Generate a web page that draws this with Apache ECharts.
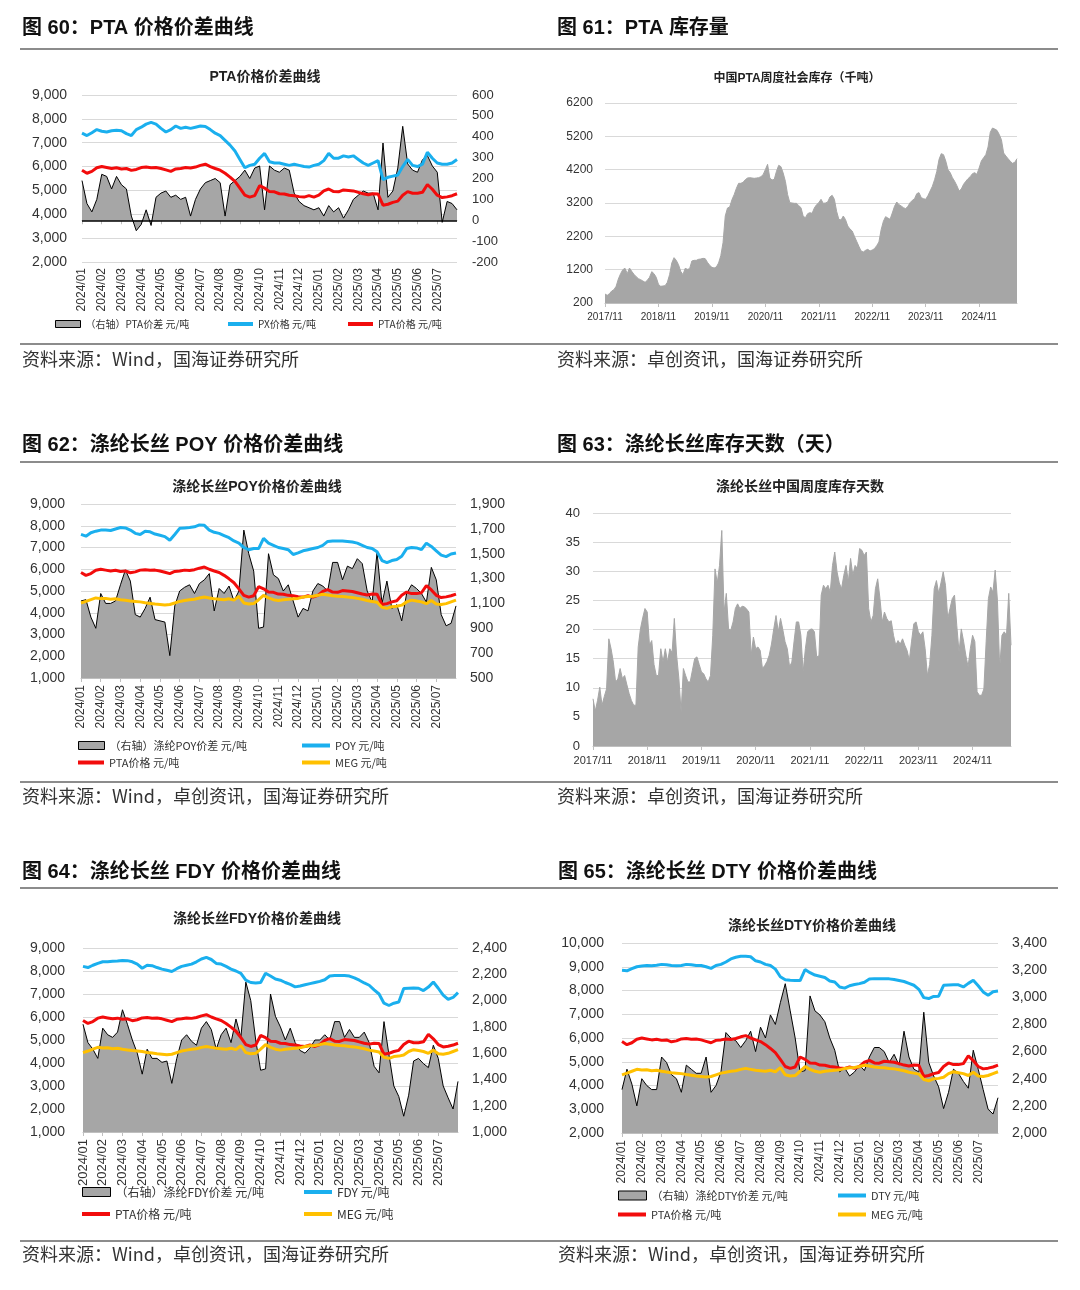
<!DOCTYPE html>
<html><head><meta charset="utf-8">
<script src="https://cdn.jsdelivr.net/npm/echarts@6.0.0/dist/echarts.min.js"></script>
<style>html,body{margin:0;padding:0;background:#fff}#c{width:1080px;height:1290px}</style>
</head><body><div id="c"></div>
<script>
// ---------- tick labels / categories ----------
const monthTicks = ['2024/01','2024/02','2024/03','2024/04','2024/05','2024/06','2024/07','2024/08','2024/09','2024/10','2024/11','2024/12','2025/01','2025/02','2025/03','2025/04','2025/05','2025/06','2025/07'];
const yearTicks = ['2017/11','2018/11','2019/11','2020/11','2021/11','2022/11','2023/11','2024/11'];

// ---------- series values (weekly, 2024/01 - 2025/07) ----------
const ptaPrice = [5850,5720,5800,5950, 6000,5960,5920,5950, 5900,5920,5840,5880, 5960,5980,5950,5960, 5920,5860,5800,5900, 5920,5960,5940,5980, 6050,6100,6000,5920, 5850,5720,5560,5380, 5100,4800,4720,4780, 5200,5100,4950,4940, 4860,4850,4800,4780, 4740,4720,4780,4720, 4800,4980,5060,4950, 4940,5020,5000,4980, 4920,4860,4820,4860, 4850,4380,4420,4500, 4550,4800,4950,4880, 4880,4920,5250,5050, 4800,4700,4730,4780, 4860];
const pxPrice = [7400,7300,7420,7550, 7480,7450,7500,7520, 7500,7380,7300,7550, 7650,7780,7850,7780, 7600,7450,7550,7700, 7600,7650,7600,7650, 7700,7680,7550,7400, 7300,7100,6900,6650, 6300,5950,6050,6100, 6350,6550,6200,6150, 6150,6100,6050,6100, 6050,6000,5980,6050, 6100,6250,6550,6350, 6350,6450,6400,6450, 6300,6150,6050,6150, 6250,5450,5550,5600, 5650,6000,6300,6050, 6000,6100,6600,6350, 6150,6100,6100,6150, 6300];
const ptaSpread = [190,80,40,100, 220,210,150,210, 170,150,20,-50, -20,50,-25,110, 130,140,110,120, 100,110,20,100, 150,180,190,200, 180,20,170,190, 210,240,200,250, 260,50,260,240, 230,250,240,130, 90,70,60,50, 60,20,70,40, 60,10,50,100, 120,140,130,130, 50,370,110,140, 250,450,270,240, 230,290,310,260, 230,-10,90,80, 50];
const megPrice = [4450,4520,4600,4680, 4650,4660,4620,4640, 4600,4570,4540,4520, 4500,4460,4430,4400, 4380,4360,4380,4450, 4520,4560,4600,4620, 4680,4720,4680,4640, 4620,4600,4640,4580, 4750,4450,4400,4420, 4600,4800,4680,4600, 4560,4600,4620,4640, 4660,4720,4750,4760, 4800,4850,4820,4780, 4760,4750,4720,4700, 4660,4620,4560,4520, 4480,4250,4200,4280, 4300,4350,4500,4580, 4540,4500,4420,4560, 4400,4380,4420,4500, 4580];
const poyPrice = [7600,7520,7680,7750, 7800,7800,7780,7850, 7920,7900,7800,7650, 7600,7750,7720,7620, 7560,7500,7330,7600, 7880,7900,7920,7950, 8040,8020,7800,7700, 7650,7550,7450,7300, 7200,7000,6900,6950, 6950,7420,7200,7100, 7000,6950,6900,6680, 6750,6850,6900,6950, 7000,7100,7280,7300, 7300,7300,7280,7250, 7200,7100,7000,6950, 6800,6400,6300,6400, 6450,6600,6950,7000, 6980,6900,7200,7050, 6850,6650,6580,6700, 6750];
const poySpread = [1120,1130,990,900, 1180,1100,1100,1120, 1250,1370,1280,1010, 990,1060,1150,970, 960,950,680,1080, 1200,1230,1250,1180, 1260,1290,1340,1040, 1220,1180,1240,1120, 1200,1690,1500,1360, 900,910,1500,1330, 1300,1200,1250,1120, 990,1060,1040,1200, 1260,1240,1200,1430, 1430,1290,1400,1380, 1460,1420,1200,1110, 1510,1100,1280,1060, 1090,960,1180,1250, 1220,1180,1110,1390, 1290,1010,920,940, 1080];
const fdyPrice = [8200,8150,8250,8330, 8400,8400,8420,8430, 8460,8450,8400,8300, 8120,8250,8230,8150, 8080,8030,7980,8100, 8200,8250,8300,8400, 8520,8590,8500,8330, 8300,8200,8080,8000, 7900,7600,7500,7480, 7500,7900,7780,7650, 7600,7500,7420,7310, 7350,7400,7450,7500, 7550,7620,7780,7800, 7800,7800,7780,7700, 7600,7480,7380,7180, 7000,6600,6500,6600, 6650,7240,7250,7260, 7250,7150,7300,7520, 7250,6950,6770,6850, 7060];
const fdySpread = [1820,1680,1630,1560, 1790,1740,1720,1760, 1930,1820,1700,1600, 1440,1630,1560,1560, 1530,1540,1370,1560, 1700,1740,1690,1660, 1790,1840,1780,1630, 1740,1790,1680,1860, 1720,2140,2000,1700, 1470,1480,2050,1880, 1800,1700,1790,1680, 1620,1600,1640,1700, 1700,1740,1700,1840, 1840,1720,1780,1720, 1720,1760,1680,1500, 1450,1840,1590,1350, 1270,1120,1280,1540, 1560,1520,1490,1660, 1560,1350,1260,1175, 1385];
const dtyPrice = [8850,8830,8920,9000, 9030,9050,9040,9060, 9100,9080,9050,9040, 9050,9100,9080,9050, 9050,9000,8930,9050, 9100,9200,9330,9400, 9440,9440,9420,9250, 9200,9100,9050,8900, 8580,8450,8430,8420, 8420,8880,8750,8650, 8600,8550,8400,8360, 8150,8100,8200,8250, 8290,8350,8480,8500, 8500,8500,8490,8460, 8420,8380,8300,8220, 8050,7700,7660,7750, 7760,8220,8230,8240, 8240,8150,8300,8430, 8200,7940,7800,7950, 7980];
const dtySpread = [2320,2470,2360,2200, 2400,2350,2320,2320, 2560,2520,2430,2400, 2300,2500,2470,2440, 2440,2560,2300,2350, 2450,2740,2700,2680, 2630,2680,2750,2600, 2780,2700,2870,2800, 2960,3100,2900,2700, 2450,2460,3010,2900, 2870,2820,2700,2610, 2450,2480,2420,2450, 2500,2460,2560,2630, 2630,2600,2520,2580, 2500,2750,2560,2470, 2450,2890,2520,2420, 2340,2180,2300,2470, 2440,2380,2330,2610, 2470,2320,2175,2140, 2260];

// ---------- series values (half-monthly, 2017/11 - 2025/07) ----------
const ptaStock = [470,430,480,560,600,700,920,1080,1200,1240,1080,1250,1150,1060,990,930,900,860,820,880,970,1140,1080,970,
 760,700,710,720,820,1050,1400,1560,1480,1350,1150,1050,1240,1210,1230,1460,1480,1480,1510,1520,1540,1530,1420,1330,
 1270,1250,1280,1400,1620,2010,2810,3050,3080,3300,3450,3640,3790,3790,3820,3900,3950,3960,3950,3940,3950,3960,3990,4050,
 4200,4360,3950,3890,3910,4150,4330,4290,4100,3850,3450,3210,3200,3190,3190,3120,3060,2800,2760,2880,2910,2890,3050,3150,
 3210,3310,3190,3200,3230,3380,3430,3310,2950,2710,2690,2810,2700,2510,2420,2360,2200,2050,1900,1760,1730,1780,1810,1760,
 1790,1830,1920,2030,2400,2650,2790,2750,2710,2900,3100,3230,3150,3110,3060,3030,3100,3210,3280,3330,3480,3510,3360,3330,
 3310,3420,3560,3700,3900,4150,4510,4680,4650,4460,4200,4110,3960,3850,3720,3560,3620,3760,3850,3930,3990,4080,4110,4060,
 4250,4460,4560,4650,4880,5320,5450,5420,5380,5260,5100,4700,4610,4530,4450,4390,4420,4530];
const yarnDays = [8.1,6.0,7.8,10.1,7.0,8.5,9.8,18.4,16.7,14.4,11.0,11.5,13.3,11.6,12.1,10.5,9.0,7.8,7.0,7.0,17.0,20.1,22.0,23.6,
 23.0,17.3,18.1,14.0,12.1,12.1,16.7,14.4,16.7,14.4,16.7,16.0,21.9,15.6,11.6,5.8,13.3,12.1,11.0,11.0,13.0,15.0,15.3,14.0,
 12.7,12.4,11.5,11.0,12.1,19.0,30.4,28.0,31.0,37.0,23.0,26.2,20.1,19.9,21.3,23.6,24.4,23.6,24.0,23.9,23.5,23.0,15.6,18.7,
 16.7,17.0,16.4,13.3,13.8,14.5,15.6,17.5,20.1,22.4,19.6,21.9,20.0,17.9,16.7,13.6,14.4,18.0,21.3,21.3,19.0,12.7,16.7,19.6,
 20.0,20.1,19.6,15.3,15.5,25.9,27.6,27.0,27.6,26.4,31.0,33.3,29.9,28.0,27.0,29.3,31.0,28.2,32.2,29.3,31.0,30.5,33.9,33.6,
 32.7,33.3,23.6,21.3,22.4,27.0,28.7,25.3,21.3,23.0,21.9,21.3,21.5,19.0,17.3,18.1,17.5,18.4,17.3,16.4,14.7,18.0,21.0,21.3,
 19.6,19.0,19.6,16.7,12.1,14.0,19.0,27.0,28.4,26.2,28.0,29.9,27.6,21.9,23.6,25.3,25.9,20.7,16.1,20.1,18.0,15.6,13.6,16.7,
 19.0,17.9,9.3,8.7,8.7,9.8,17.9,25.3,27.3,26.4,30.2,25.0,13.3,19.0,19.6,19.0,26.2,17.3];

// ---------- categories built from the tick labels ----------
const weekDates = [];
monthTicks.forEach(m => ['-1','-2','-3','-4'].forEach(w => weekDates.push(m + w)));
weekDates.push('2025/07-E');
const halfMonthDates = [];
for (let k = 0; k < 93; k++) {
  const y = 2017 + Math.floor((10 + k) / 12);
  const mo = (10 + k) % 12 + 1;
  const s = y + '/' + (mo < 10 ? '0' + mo : mo);
  halfMonthDates.push(s + '-a', s + '-b');
}
const monthStart = (idx, v) => /-1$/.test(v);
const yearStart = (idx, v) => yearTicks.indexOf(v.slice(0, 7)) >= 0 && /-a$/.test(v);

// ---------- styling ----------
const FONT = "'Liberation Sans','Noto Sans CJK SC',sans-serif";
const CJK = "'Noto Sans CJK SC','Liberation Sans',sans-serif";
const BLUE = '#1AAFEE', RED = '#F20C0C', GOLD = '#FFC000', GRAY = '#A6A6A6';
const TXT = '#333';
const comma = v => String(v).replace(/\B(?=(\d{3})+(?!\d))/g, ',');

const opt = { backgroundColor: '#fff', animation: false, title: [], grid: [], xAxis: [], yAxis: [], series: [], legend: [], graphic: [] };

function addText(text, left, top, size, bold, align, family, color) {
  opt.title.push({ text, left, top, textAlign: align || 'left', padding: 0,
    textStyle: { fontSize: size, fontWeight: bold ? 'bold' : 'normal', color: color || '#111', fontFamily: family || FONT } });
}
function hline(y) {
  opt.graphic.push({ type: 'line', shape: { x1: 20, y1: y, x2: 1058, y2: y }, style: { stroke: '#666', lineWidth: 1.5 }, silent: true });
}
function addLegend(name, left, top, kind, color, fs, w, h) {
  opt.legend.push({ left, top, itemWidth: w, itemHeight: h, selectedMode: false, padding: 0,
    textStyle: { fontSize: fs, color: TXT, fontFamily: CJK },
    data: [{ name, icon: 'rect', itemStyle: kind === 'area'
      ? { color: GRAY, borderColor: '#000', borderWidth: 1 }
      : { color, borderWidth: 0 } }] });
}

function pricePanel(p) {
  const gi = opt.grid.length;
  opt.grid.push({ left: p.x, top: p.y, width: p.w, height: p.h });
  opt.xAxis.push({ type: 'category', gridIndex: gi, data: weekDates, boundaryGap: false,
    axisLine: { lineStyle: { color: '#BFBFBF' } },
    axisTick: { interval: monthStart, length: 4, lineStyle: { color: '#BFBFBF' } },
    axisLabel: { interval: monthStart, rotate: 90, margin: p.xm, fontSize: p.xfs, color: TXT, fontFamily: FONT, formatter: v => v.slice(0, 7) },
    splitLine: { show: false } });
  const xi = opt.xAxis.length - 1;
  opt.yAxis.push({ type: 'value', gridIndex: gi, position: 'left', min: p.lmin, max: p.lmax, interval: p.lint,
    axisLine: { show: false }, axisTick: { show: false },
    splitLine: { lineStyle: { color: '#D9D9D9' } },
    axisLabel: { margin: p.lm, fontSize: p.lfs, color: TXT, fontFamily: FONT, formatter: comma } });
  const yl = opt.yAxis.length - 1;
  opt.yAxis.push({ type: 'value', gridIndex: gi, position: 'right', min: p.rmin, max: p.rmax, interval: p.rint,
    axisLine: { show: false }, axisTick: { show: false }, splitLine: { show: false },
    axisLabel: { margin: p.rm, fontSize: p.rfs, color: TXT, fontFamily: FONT, formatter: comma } });
  const yr = yl + 1;
  const sp = { type: 'line', name: p.spreadName, xAxisIndex: xi, yAxisIndex: yr, data: p.spread, symbol: 'none', z: 1,
    lineStyle: { color: '#000', width: 1 }, itemStyle: { color: GRAY },
    areaStyle: { color: GRAY, opacity: 1, origin: p.origin } };
  if (p.zeroLine) sp.markLine = { silent: true, symbol: 'none', label: { show: false },
    lineStyle: { color: '#000', width: 1.5, type: 'solid' }, data: [{ yAxis: 0 }] };
  opt.series.push(sp);
  p.lines.forEach((l, k) => opt.series.push({ type: 'line', name: l.name, xAxisIndex: xi, yAxisIndex: yl, data: l.data,
    symbol: 'none', z: 3 + k, lineStyle: { color: l.color, width: 3 }, itemStyle: { color: l.color } }));
}

function areaPanel(p) {
  const gi = opt.grid.length;
  opt.grid.push({ left: p.x, top: p.y, width: p.w, height: p.h });
  opt.xAxis.push({ type: 'category', gridIndex: gi, data: halfMonthDates, boundaryGap: false,
    axisLine: { lineStyle: { color: '#BFBFBF' } },
    axisTick: { interval: yearStart, length: 4, lineStyle: { color: '#BFBFBF' } },
    axisLabel: { interval: yearStart, margin: p.xm, fontSize: p.xfs, color: TXT, fontFamily: FONT, formatter: v => v.slice(0, 7) },
    splitLine: { show: false } });
  opt.yAxis.push({ type: 'value', gridIndex: gi, min: p.min, max: p.max, interval: p.int,
    axisLine: { show: false }, axisTick: { show: false },
    splitLine: { lineStyle: { color: '#D9D9D9' } },
    axisLabel: { margin: p.lm, fontSize: p.lfs, color: TXT, fontFamily: FONT, formatter: v => String(v) } });
  opt.series.push({ type: 'line', name: p.name, xAxisIndex: opt.xAxis.length - 1, yAxisIndex: opt.yAxis.length - 1,
    data: p.data, symbol: 'none', lineStyle: { color: GRAY, width: 1 }, itemStyle: { color: GRAY },
    areaStyle: { color: GRAY, opacity: 1, origin: 'start' } });
}

// ---------- page text & rules ----------
addText('图 60：PTA 价格价差曲线', 22, 18, 20, true);
addText('图 61：PTA 库存量', 557, 18, 20, true);
addText('图 62：涤纶长丝 POY 价格价差曲线', 22, 435, 20, true);
addText('图 63：涤纶长丝库存天数（天）', 557, 435, 20, true);
addText('图 64：涤纶长丝 FDY 价格价差曲线', 22, 862, 20, true);
addText('图 65：涤纶长丝 DTY 价格价差曲线', 558, 862, 20, true);
addText('资料来源：Wind，国海证券研究所', 22, 350, 18, false, 'left', CJK, '#333');
addText('资料来源：卓创资讯，国海证券研究所', 557, 350, 18, false, 'left', CJK, '#333');
addText('资料来源：Wind，卓创资讯，国海证券研究所', 22, 787, 18, false, 'left', CJK, '#333');
addText('资料来源：卓创资讯，国海证券研究所', 557, 787, 18, false, 'left', CJK, '#333');
addText('资料来源：Wind，卓创资讯，国海证券研究所', 22, 1245, 18, false, 'left', CJK, '#333');
addText('资料来源：Wind，卓创资讯，国海证券研究所', 558, 1245, 18, false, 'left', CJK, '#333');
[49, 344, 462, 782, 888, 1241].forEach(hline);

// chart titles
addText('PTA价格价差曲线', 265, 70, 14, true, 'center', FONT, '#222');
addText('中国PTA周度社会库存（千吨）', 797, 73, 12, true, 'center', FONT, '#222');
addText('涤纶长丝POY价格价差曲线', 257, 480, 14, true, 'center', FONT, '#222');
addText('涤纶长丝中国周度库存天数', 800, 480, 14, true, 'center', FONT, '#222');
addText('涤纶长丝FDY价格价差曲线', 257, 912, 14, true, 'center', FONT, '#222');
addText('涤纶长丝DTY价格价差曲线', 812, 919, 14, true, 'center', FONT, '#222');

// ---------- panels ----------
pricePanel({ x: 82, y: 95, w: 375, h: 167, lmin: 2000, lmax: 9000, lint: 1000, rmin: -200, rmax: 600, rint: 100,
  lm: 15, rm: 15, lfs: 14, rfs: 13, xm: 6, xfs: 12, origin: 'auto', zeroLine: true,
  spreadName: '（右轴）PTA价差 元/吨', spread: ptaSpread,
  lines: [{ name: 'PX价格 元/吨', data: pxPrice, color: BLUE }, { name: 'PTA价格 元/吨', data: ptaPrice, color: RED }] });
addLegend('（右轴）PTA价差 元/吨', 55, 319, 'area', null, 10, 25, 7);
addLegend('PX价格 元/吨', 228, 319, 'line', BLUE, 10, 25, 4);
addLegend('PTA价格 元/吨', 348, 319, 'line', RED, 10, 25, 4);

areaPanel({ x: 605, y: 103, w: 412, h: 200, min: 200, max: 6200, int: 1000, lm: 12, lfs: 12, xm: 9, xfs: 10,
  name: '中国PTA周度社会库存', data: ptaStock });

pricePanel({ x: 81, y: 504, w: 375, h: 174, lmin: 1000, lmax: 9000, lint: 1000, rmin: 500, rmax: 1900, rint: 200,
  lm: 16, rm: 14, lfs: 14, rfs: 14, xm: 7, xfs: 12, origin: 'start',
  spreadName: '（右轴）涤纶POY价差 元/吨', spread: poySpread,
  lines: [{ name: 'POY 元/吨', data: poyPrice, color: BLUE }, { name: 'PTA价格 元/吨', data: ptaPrice, color: RED }, { name: 'MEG 元/吨', data: megPrice, color: GOLD }] });
addLegend('（右轴）涤纶POY价差 元/吨', 78, 740, 'area', null, 11, 26, 8);
addLegend('POY 元/吨', 302, 740, 'line', BLUE, 11, 28, 4);
addLegend('PTA价格 元/吨', 78, 757, 'line', RED, 11, 26, 4);
addLegend('MEG 元/吨', 302, 757, 'line', GOLD, 11, 28, 4);

areaPanel({ x: 593, y: 513, w: 418, h: 233, min: 0, max: 40, int: 5, lm: 13, lfs: 13, xm: 9, xfs: 11,
  name: '涤纶长丝中国周度库存天数', data: yarnDays });

pricePanel({ x: 83, y: 948, w: 375, h: 184, lmin: 1000, lmax: 9000, lint: 1000, rmin: 1000, rmax: 2400, rint: 200,
  lm: 18, rm: 14, lfs: 14, rfs: 14, xm: 7, xfs: 13, origin: 'start',
  spreadName: '（右轴）涤纶FDY价差 元/吨', spread: fdySpread,
  lines: [{ name: 'FDY 元/吨', data: fdyPrice, color: BLUE }, { name: 'PTA价格 元/吨', data: ptaPrice, color: RED }, { name: 'MEG 元/吨', data: megPrice, color: GOLD }] });
addLegend('（右轴）涤纶FDY价差 元/吨', 82, 1186, 'area', null, 12, 28, 9);
addLegend('FDY 元/吨', 304, 1186, 'line', BLUE, 12, 28, 4);
addLegend('PTA价格 元/吨', 82, 1208, 'line', RED, 12, 28, 4);
addLegend('MEG 元/吨', 304, 1208, 'line', GOLD, 12, 28, 4);

pricePanel({ x: 622, y: 943, w: 376, h: 190, lmin: 2000, lmax: 10000, lint: 1000, rmin: 2000, rmax: 3400, rint: 200,
  lm: 18, rm: 14, lfs: 14, rfs: 14, xm: 7, xfs: 12, origin: 'start',
  spreadName: '（右轴）涤纶DTY价差 元/吨', spread: dtySpread,
  lines: [{ name: 'DTY 元/吨', data: dtyPrice, color: BLUE }, { name: 'PTA价格 元/吨', data: ptaPrice, color: RED }, { name: 'MEG 元/吨', data: megPrice, color: GOLD }] });
addLegend('（右轴）涤纶DTY价差 元/吨', 618, 1190, 'area', null, 11, 28, 9);
addLegend('DTY 元/吨', 838, 1190, 'line', BLUE, 11, 28, 4);
addLegend('PTA价格 元/吨', 618, 1209, 'line', RED, 11, 28, 4);
addLegend('MEG 元/吨', 838, 1209, 'line', GOLD, 11, 28, 4);

const chart = echarts.init(document.getElementById('c'), null, { width: 1080, height: 1290 });
chart.setOption(opt);
</script></body></html>
